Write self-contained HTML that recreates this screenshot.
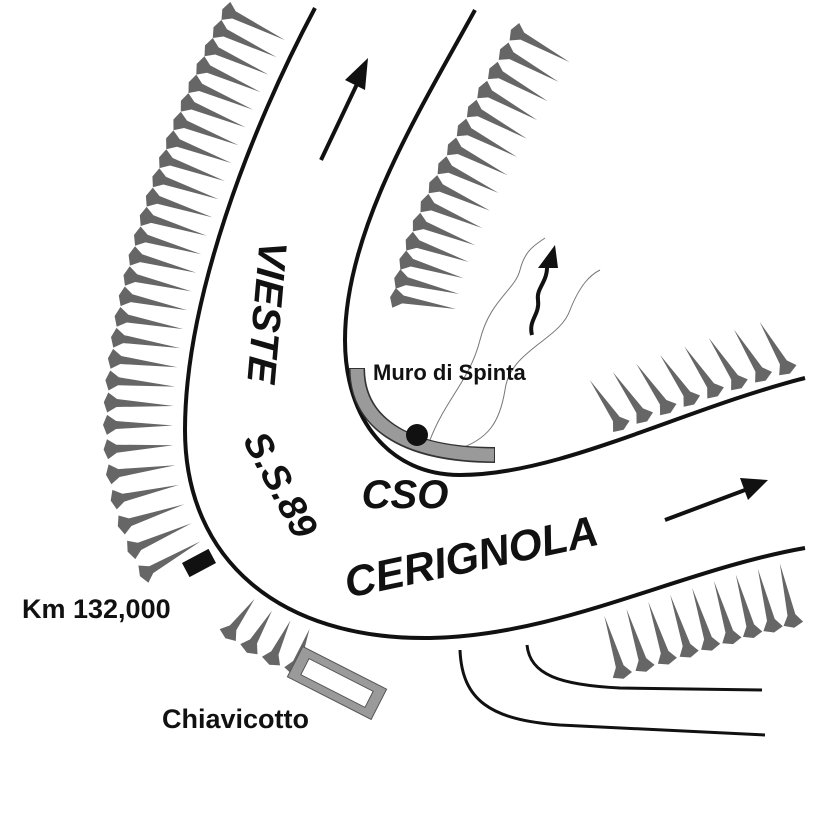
<!DOCTYPE html>
<html><head><meta charset="utf-8"><style>
html,body{margin:0;padding:0;background:#fff;}
svg{display:block;font-family:"Liberation Sans",sans-serif;}
</style></head><body>
<svg id="s" width="828" height="828" viewBox="0 0 828 828" xmlns="http://www.w3.org/2000/svg">
<rect width="828" height="828" fill="#fff"/>
<g id="hatch" fill="#666"></g>
<path id="outer" d="M315,8 C250,130 185,300 185,430 C185,560 280,640 430,638 C560,636 680,570 805,548" fill="none" stroke="#111" stroke-width="4"/>
<path id="inner" d="M475,10 C420,110 345,230 345,340 C345,420 390,475 460,475 C560,475 680,410 805,378" fill="none" stroke="#111" stroke-width="4"/>
<path d="M460,650 C462,700 490,720 560,725 L765,735" fill="none" stroke="#111" stroke-width="3"/>
<path d="M527,645 C530,675 560,685 620,688 L762,690" fill="none" stroke="#111" stroke-width="3"/>
<path d="M430,440 C445,400 470,380 480,340 C490,300 515,290 520,270 C525,250 535,245 545,238" fill="none" stroke="#777" stroke-width="1"/>
<path d="M455,450 C490,440 500,420 505,390 C510,350 560,340 570,310 C580,285 590,275 600,270" fill="none" stroke="#777" stroke-width="1"/>
<path d="M357,368 C357,420 400,455 495,455" fill="none" stroke="#333" stroke-width="16"/>
<path d="M357,369 C357,420 400,454 494,455" fill="none" stroke="#9a9a9a" stroke-width="13"/>
<circle cx="417" cy="435" r="11" fill="#111"/>
<line x1="321" y1="160" x2="358" y2="82" stroke="#111" stroke-width="4"/>
<polygon points="368,58 345,80 365,90" fill="#111"/>
<line x1="665" y1="520" x2="745" y2="490" stroke="#111" stroke-width="4"/>
<polygon points="768,480 740,478 748,500" fill="#111"/>
<path d="M532,335 C528,320 540,315 538,300 C536,288 548,282 547,265" fill="none" stroke="#111" stroke-width="4"/>
<polygon points="555,245 538,268 558,268" fill="#111"/>
<rect x="-15" y="-8" width="30" height="16" fill="#111" transform="translate(199,563) rotate(-28)"/>
<g transform="translate(337,683) rotate(27)">
<rect x="-47" y="-17" width="94" height="34" fill="#9a9a9a" stroke="#555" stroke-width="1"/>
<rect x="-36" y="-9" width="72" height="18" fill="#fff" stroke="#555" stroke-width="1"/>
</g>
<text x="0" y="0" font-size="40" font-weight="bold" font-style="italic" fill="#111" text-anchor="middle" dominant-baseline="middle" transform="translate(264,312) rotate(95)">VIESTE</text>
<text x="0" y="0" font-size="38" font-weight="bold" font-style="italic" fill="#111" text-anchor="middle" dominant-baseline="middle" transform="translate(278,486) rotate(62)">S.S.89</text>
<text x="405" y="508" font-size="40" font-weight="bold" font-style="italic" fill="#111" text-anchor="middle">CSO</text>
<text x="0" y="0" font-size="43" font-weight="bold" font-style="italic" fill="#111" text-anchor="middle" dominant-baseline="middle" transform="translate(472,560) rotate(-12)">CERIGNOLA</text>
<text x="373" y="380" font-size="22" font-weight="bold" fill="#111">Muro di Spinta</text>
<text x="22" y="618" font-size="27" font-weight="bold" fill="#111">Km 132,000</text>
<text x="162" y="728" font-size="27" font-weight="bold" fill="#111">Chiavicotto</text>
</svg>
<script>
(function(){
var NS="http://www.w3.org/2000/svg";
var g=document.getElementById("hatch");
function tack(hx,hy,tx,ty){
  var dx=tx-hx,dy=ty-hy,L=Math.sqrt(dx*dx+dy*dy);dx/=L;dy/=L;
  var px=-dy,py=dx;
  var pts=[[hx+px*10,hy+py*10],[hx+dx*9+px*4,hy+dy*9+py*4],[tx,ty],[hx+dx*9-px*4,hy+dy*9-py*4],[hx-px*10,hy-py*10],[hx-dx*4,hy-dy*4]];
  var p=document.createElementNS(NS,"polygon");
  p.setAttribute("points",pts.map(function(a){return a[0].toFixed(1)+","+a[1].toFixed(1)}).join(" "));
  g.appendChild(p);
}
// perpendicular tacks; ang rotates the spike (degrees) toward path tangent
function hatch(id,s0,s1,step,sign,hOff,tOff,ang){
  var path=document.getElementById(id);
  var r=(ang||0)*Math.PI/180;
  for(var s=s0;s<=s1+0.01;s+=step){
    var a=path.getPointAtLength(s),b=path.getPointAtLength(s+1);
    var tx=b.x-a.x,ty=b.y-a.y,l=Math.sqrt(tx*tx+ty*ty)||1;tx/=l;ty/=l;
    var nx=-ty*sign,ny=tx*sign;
    var hx=a.x+nx*hOff,hy=a.y+ny*hOff;
    var len=tOff-hOff; // signed
    var dx=nx*Math.cos(r)+tx*Math.sin(r),dy=ny*Math.cos(r)+ty*Math.sin(r);
    tack(hx,hy,hx+dx*len,hy+dy*len);
  }
}
function findS(id,fn){var p=document.getElementById(id),T=p.getTotalLength();for(var s=0;s<T;s+=2){if(fn(p.getPointAtLength(s)))return s;}return T;}
// left bank
var sA=findS("outer",function(p){return p.y>45;});
var sB=findS("outer",function(p){return p.y>548;});
hatch("outer",sA,sB,19,1,78,12,0);
// chiavicotto tacks
var sC=findS("outer",function(p){return p.x>228&&p.y>590;});
hatch("outer",sC,sC+60,20,1,55,10,0);
// lower right
var sD=findS("outer",function(p){return p.x>600&&p.y<620;});
var sE=findS("outer",function(p){return p.x>790;});
hatch("outer",sD,sE,23,1,72,10,0);
// upper right on inner
var sF=findS("inner",function(p){return p.y>8;});
var sG=findS("inner",function(p){return p.y>290;});
hatch("inner",sF,sG,22,-1,45,108,0);
// middle right
var sH=findS("inner",function(p){return p.x>625;});
var sI=findS("inner",function(p){return p.x>792;});
hatch("inner",sH,sI,25,-1,12,68,-15);
})();
</script>
</body></html>
